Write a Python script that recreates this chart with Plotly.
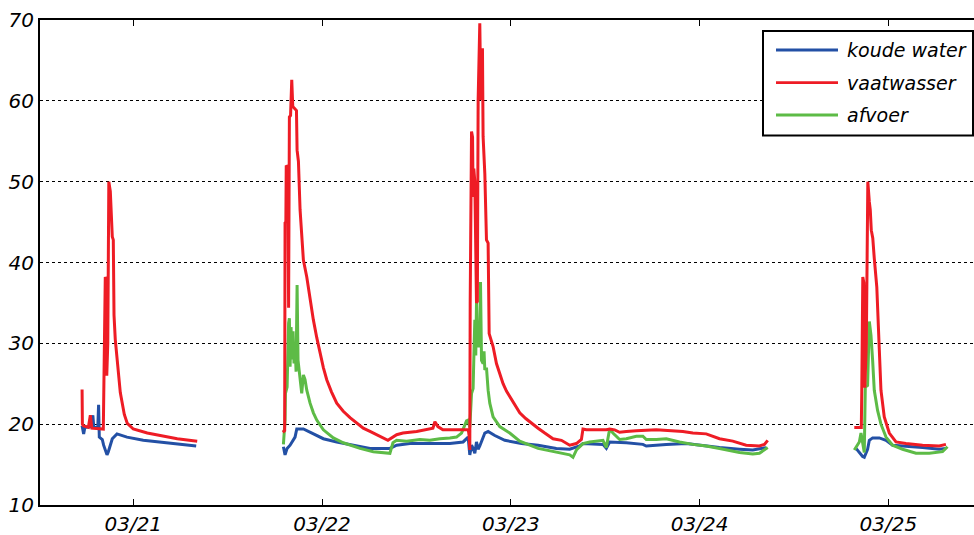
import pandas as pd
import plotly.graph_objects as go

# Time axis: hours after 21 March 00:00; each list is one measuring run.
START = pd.Timestamp("2014-03-21 00:00")

# --- koude water (cold water) ---
koude_h1 = [-6.51, -6.31, -6.16, -5.46, -5.14, -5.02, -4.51, -4.41, -4.32, -3.94, -3.77,
            -3.34, -3.17, -3.05, -2.67, -2.07, -0.8, 1.27, 3.43, 5.59, 8.0]
koude_v1 = [19.8, 18.8, 19.6, 19.7, 21.1, 19.6, 19.6, 22.4, 18.4, 18.1, 17.4,
            16.2, 16.6, 17.0, 18.2, 18.8, 18.4, 18.0, 17.8, 17.6, 17.3]
koude_h2 = [19.09, 19.30, 19.56, 19.94, 20.57, 20.79, 21.63, 22.90, 24.17, 25.87, 27.97,
            30.10, 32.63, 33.49, 35.17, 37.71, 40.25, 41.94, 42.37, 42.58, 42.79, 43.01,
            43.21, 43.43, 43.64, 43.85, 44.06, 44.70, 45.12, 45.97, 47.24, 49.36, 51.47,
            53.80, 55.49, 56.76, 57.18, 59.72, 60.15, 60.57, 62.69, 64.80, 65.23, 67.77,
            70.31, 72.00, 74.54, 77.08, 78.77, 80.47]
koude_v2 = [17.2, 16.2, 17.0, 17.4, 18.4, 19.4, 19.4, 18.8, 18.2, 17.8, 17.4,
            17.0, 17.0, 17.4, 17.6, 17.6, 17.6, 17.8, 18.2, 18.4, 16.2, 17.4,
            17.0, 16.4, 17.8, 16.9, 17.3, 18.9, 19.1, 18.6, 18.0, 17.6, 17.4,
            17.0, 16.9, 17.3, 17.6, 17.5, 17.0, 17.8, 17.7, 17.5, 17.3, 17.5,
            17.6, 17.4, 17.1, 16.9, 16.8, 17.1]
koude_h3 = [91.90, 92.74, 92.95, 93.37, 93.59, 94.01, 94.86, 95.71, 96.55, 98.25,
            100.36, 102.48, 103.33]
koude_v3 = [17.0, 16.0, 15.9, 16.9, 18.0, 18.3, 18.3, 18.0, 17.4, 17.3,
            17.1, 16.9, 17.0]

# --- vaatwasser (dishwasher) ---
vaat_h1 = [-6.51, -6.47, -6.35, -5.71, -5.46, -5.27, -3.81, -3.75, -3.56, -3.43, -3.37,
           -3.24, -3.11, -2.92, -2.79, -2.67, -2.54, -2.45, -2.29, -2.03, -1.65, -1.14,
           -0.76, 0.0, 1.78, 3.43, 5.59, 8.13]
vaat_v1 = [24.3, 20.0, 19.8, 19.6, 21.1, 19.5, 19.4, 24.0, 38.2, 37.8, 26.0,
           30.0, 50.0, 48.8, 46.5, 43.2, 42.8, 33.5, 30.5, 27.5, 23.9, 21.2,
           20.1, 19.4, 18.9, 18.6, 18.2, 17.9]
vaat_h2 = [19.01, 19.25, 19.30, 19.40, 19.45, 19.65, 19.75, 19.85, 20.00, 20.15, 20.28,
           20.55, 20.75, 20.83, 21.0, 21.21, 21.42, 21.63, 22.06, 22.48, 22.90, 23.33,
           23.75, 24.17, 24.60, 25.20, 25.87, 26.70, 27.56, 28.40, 29.24, 30.10, 30.95,
           31.70, 32.38, 33.49, 34.29, 36.03, 37.30, 38.10,
           38.35, 38.73, 39.37, 41.10, 42.37, 42.60, 42.70, 42.79, 42.84, 43.01, 43.14,
           43.21, 43.30, 43.43, 43.64, 43.75, 43.85, 44.06, 44.19, 44.40, 44.48, 44.70,
           44.91, 45.12, 45.25, 45.75, 46.18, 46.60, 47.02, 47.45, 47.87, 48.50, 49.14,
           49.90, 50.63, 51.47, 52.32, 53.37,
           54.44, 55.49, 56.34, 56.98, 57.18, 57.61, 60.15, 60.57, 61.21, 61.84, 62.69,
           63.96, 66.50, 68.61, 69.88, 71.15, 72.85, 74.54, 76.23, 77.93, 79.62, 80.25,
           80.67]
vaat_v2 = [19.0, 19.2, 44.9, 45.0, 52.0, 51.8, 34.4, 58.0, 58.2, 62.6, 59.3,
           59.0, 58.8, 53.9, 52.5, 46.5, 43.6, 40.3, 38.2, 35.3, 32.9, 30.7,
           28.8, 27.0, 25.5, 24.0, 22.6, 21.6, 20.8, 20.1, 19.5, 19.1, 18.7,
           18.3, 18.0, 18.7, 18.9, 19.1, 19.3, 19.5,
           20.3, 19.7, 19.3, 19.3, 19.3, 19.3, 18.6, 16.8, 35.0, 56.2, 55.5,
           48.1, 51.6, 50.0, 35.0, 35.2, 60.1, 69.6, 60.1, 66.5, 55.6, 51.0,
           42.8, 42.4, 31.2, 29.6, 27.5, 26.2, 25.0, 24.1, 23.4, 22.3, 21.4,
           20.7, 20.1, 19.5, 18.9, 18.2,
           18.0, 17.4, 17.6, 18.1, 19.4, 19.3, 19.3, 19.4, 19.3, 19.0, 19.1,
           19.2, 19.3, 19.2, 19.1, 18.9, 18.8, 18.2, 17.9, 17.4, 17.3, 17.5,
           18.0]
vaat_h3 = [91.68, 92.57, 92.63, 92.76, 92.89, 93.02, 93.21, 93.40, 93.59, 93.71, 93.84,
           94.03, 94.22, 94.35, 94.54, 94.86, 95.07, 95.49, 96.13, 96.98, 98.25, 100.36,
           102.48, 103.33]
vaat_v3 = [19.6, 19.6, 24.0, 38.2, 37.5, 24.5, 30.0, 50.0, 47.5, 46.5, 44.0,
           43.0, 40.5, 38.5, 37.0, 29.2, 24.2, 20.9, 18.9, 17.8, 17.6, 17.4,
           17.3, 17.5]

# --- afvoer (drain) ---
afvoer_h2 = [19.09, 19.30, 19.35, 19.56, 19.75, 19.85, 19.94, 20.06, 20.19, 20.32, 20.44,
             20.57, 20.70, 20.83, 20.95, 21.21, 21.42, 21.63, 21.84, 22.06, 22.48, 22.90,
             23.33, 24.17, 25.44, 26.70, 28.83, 30.52, 32.21, 32.63, 33.02, 33.49, 34.75,
             36.44, 37.71, 38.98, 40.25, 41.10, 41.74, 42.37, 42.58, 42.79, 43.01, 43.21,
             43.35, 43.43, 43.55, 43.64, 43.75, 43.85, 43.95, 44.06, 44.15, 44.28, 44.48,
             44.60, 44.70, 44.91, 45.12, 45.33, 45.75, 46.60, 47.87, 49.14, 51.47, 53.59,
             55.49, 55.91, 56.34, 57.18, 58.03, 59.72, 60.15, 60.57, 60.99, 61.84, 62.69,
             63.96, 64.80, 65.23, 66.50, 67.77, 69.46, 71.15, 72.85, 74.54, 77.08, 78.77,
             79.62, 80.67]
afvoer_v2 = [17.5, 20.5, 23.8, 24.6, 32.5, 33.1, 27.1, 32.0, 28.0, 31.5, 27.5,
             30.0, 26.5, 37.2, 27.9, 25.5, 23.8, 26.1, 25.5, 24.2, 22.6, 21.4,
             20.5, 19.3, 18.3, 17.7, 17.0, 16.6, 16.5, 16.4, 17.7, 18.0, 17.9,
             18.1, 18.0, 18.2, 18.3, 18.4, 18.9, 20.4, 20.5, 19.6, 23.8, 24.4,
             30.0, 32.9, 28.5, 35.0, 30.5, 32.0, 29.5, 31.5, 37.6, 27.9, 27.5,
             29.0, 26.7, 27.0, 24.2, 22.6, 20.9, 19.7, 18.9, 17.9, 17.0, 16.6,
             16.2, 15.9, 16.8, 17.6, 17.8, 18.0, 17.1, 19.4, 18.9, 18.1, 18.2,
             18.5, 18.5, 18.1, 18.1, 18.2, 17.8, 17.5, 17.3, 17.0, 16.5, 16.3,
             16.4, 17.1]
afvoer_h3 = [91.68, 92.32, 92.53, 92.95, 93.08, 93.37, 93.59, 93.80, 94.01, 94.22, 94.64,
             95.07, 95.71, 96.55, 97.82, 99.52, 101.21, 102.90, 103.53]
afvoer_v3 = [16.8, 17.8, 18.9, 16.5, 24.6, 24.8, 32.7, 31.0, 27.9, 24.2, 21.7,
             20.0, 18.4, 17.4, 16.9, 16.4, 16.4, 16.6, 17.2]

series = [
    ("koude water", "#2350A5", [(koude_h1, koude_v1), (koude_h2, koude_v2), (koude_h3, koude_v3)]),
    ("vaatwasser", "#EE1C25", [(vaat_h1, vaat_v1), (vaat_h2, vaat_v2), (vaat_h3, vaat_v3)]),
    ("afvoer", "#5DBB46", [(afvoer_h2, afvoer_v2), (afvoer_h3, afvoer_v3)]),
]

FONT = dict(family="DejaVu Sans", size=20, color="black", style="italic")


def join_runs(runs):
    """Concatenate runs into one x/y pair, with None between runs to break the line."""
    xs, ys = [], []
    for hours, vals in runs:
        if xs:
            xs.append(None)
            ys.append(None)
        xs.extend(START + pd.to_timedelta(hours, unit="h"))
        ys.extend(vals)
    return xs, ys


fig = go.Figure()
# draw order: cold water, drain, dishwasher on top
for idx in (0, 2, 1):
    name, color, runs = series[idx]
    xs, ys = join_runs(runs)
    fig.add_trace(go.Scatter(x=xs, y=ys, mode="lines", name=name,
                             line=dict(color=color, width=3.0),
                             connectgaps=False, showlegend=False))

x_lo = START + pd.Timedelta(hours=-11.86)
x_hi = START + pd.Timedelta(hours=106.9)

fig.update_xaxes(
    range=[x_lo, x_hi], type="date",
    tick0=START, dtick=86400000, tickformat="%m/%d",
    ticks="inside", ticklen=6, tickwidth=1.2, tickcolor="black",
    showline=True, linecolor="black", linewidth=2, mirror="ticks",
    showgrid=False, zeroline=False, tickfont=FONT,
)
fig.update_yaxes(
    range=[10, 70], dtick=10, tick0=10,
    showline=True, linecolor="black", linewidth=2, mirror=False,
    showgrid=True, gridcolor="black", gridwidth=1.2, griddash="dot",
    zeroline=False, ticks="", tickfont=FONT,
)

# legend box with line swatches
W, L, T, B = 974, 40, 20, 505
px = lambda v: (v - L) / (W - L)
py = lambda v: (B - v) / (B - T)
shapes = [dict(type="rect", xref="paper", yref="paper",
               x0=px(763), x1=px(973), y0=py(135.5), y1=py(31),
               line=dict(color="black", width=2), fillcolor="white", layer="above")]
annotations = []
for (name, color, _), ypix in zip(series, (50, 82.7, 115)):
    shapes.append(dict(type="line", xref="paper", yref="paper",
                       x0=px(776), x1=px(838), y0=py(ypix), y1=py(ypix),
                       line=dict(color=color, width=2.8), layer="above"))
    annotations.append(dict(xref="paper", yref="paper", x=px(845), y=py(ypix),
                            xanchor="left", yanchor="middle", text=name,
                            showarrow=False, font=dict(FONT, size=19)))

fig.update_layout(
    width=974, height=535,
    margin=dict(l=40, r=0, t=20, b=30),
    paper_bgcolor="white", plot_bgcolor="white",
    shapes=shapes, annotations=annotations,
    showlegend=False,
)

fig.write_html("out.html")
